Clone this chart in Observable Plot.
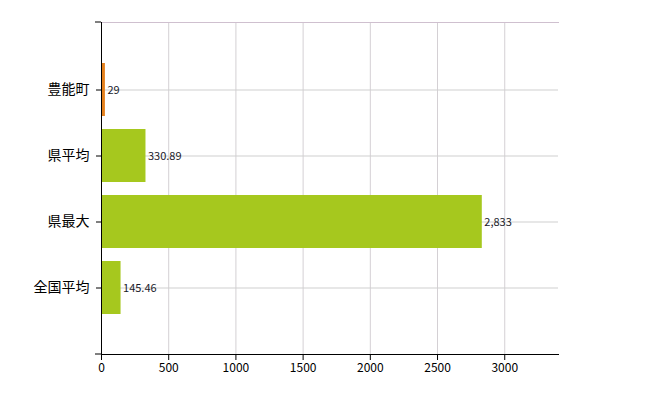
<!DOCTYPE html>
<html><head><meta charset="utf-8">
<script src="https://cdn.jsdelivr.net/npm/d3@7"></script>
<script src="https://cdn.jsdelivr.net/npm/@observablehq/plot@0.6"></script>
<style>body{margin:0;background:#fff;font-family:"Noto Sans CJK JP",sans-serif}</style>
</head><body><div id="chart"></div>
<script>
const categories = ["豊能町", "県平均", "県最大", "全国平均"];
const values = [29, 330.89, 2833, 145.46];
const valueLabels = ["29", "330.89", "2,833", "145.46"];
const barColors = ["#e4801c", "#a6c81e", "#a6c81e", "#a6c81e"];
const xTicks = [0, 500, 1000, 1500, 2000, 2500, 3000];

const data = categories.map((c, i) => ({cat: c, v: values[i], label: valueLabels[i], color: barColors[i]}));

const plot = Plot.plot({
  width: 650, height: 400,
  marginLeft: 101, marginRight: 92, marginTop: 22, marginBottom: 46,
  style: {fontFamily: '"Noto Sans CJK JP", sans-serif', fontSize: "12px", color: "#000", background: "#fff"},
  x: {domain: [0, 3400], ticks: xTicks, tickFormat: d => String(d), label: null, tickSize: 6},
  y: {domain: categories, paddingInner: 0.2, paddingOuter: 0.6, label: null, tickSize: 5},
  marks: [
    Plot.ruleX(xTicks.slice(1), {stroke: "#d4d0d4", strokeWidth: 1}),
    Plot.ruleY(categories, {y: d => d, stroke: "#cfcfcf", strokeWidth: 1}),
    Plot.frame({anchor: "top", stroke: "#cfc0cf", strokeDasharray: "2,1"}),
    Plot.barX(data, {x: "v", y: "cat", fill: "color"}),
    Plot.text(data, {x: "v", y: "cat", text: "label", dx: 2, textAnchor: "start", fontSize: 11, fill: "#1a1a2a"}),
    Plot.axisX({ticks: xTicks, tickFormat: d => String(d), tickSize: 6, fontSize: 12, label: null}),
    Plot.axisY({tickSize: 5, tickPadding: 7, fontSize: 14, label: null}),
    Plot.frame({anchor: "left", stroke: "#000"}),
    Plot.frame({anchor: "bottom", stroke: "#000"})
  ]
});
document.getElementById("chart").appendChild(plot);

// end ticks on the y axis, positioned from the plot's own scales
const ys = plot.scale("y");
const xs = plot.scale("x");
const svg = d3.select(plot);
const x0 = xs.apply(0);
[ys.range[0], ys.range[1]].forEach(yy => {
  svg.append("line").attr("x1", x0 - 6).attr("x2", x0).attr("y1", yy).attr("y2", yy).attr("stroke", "#000");
});
</script></body></html>
